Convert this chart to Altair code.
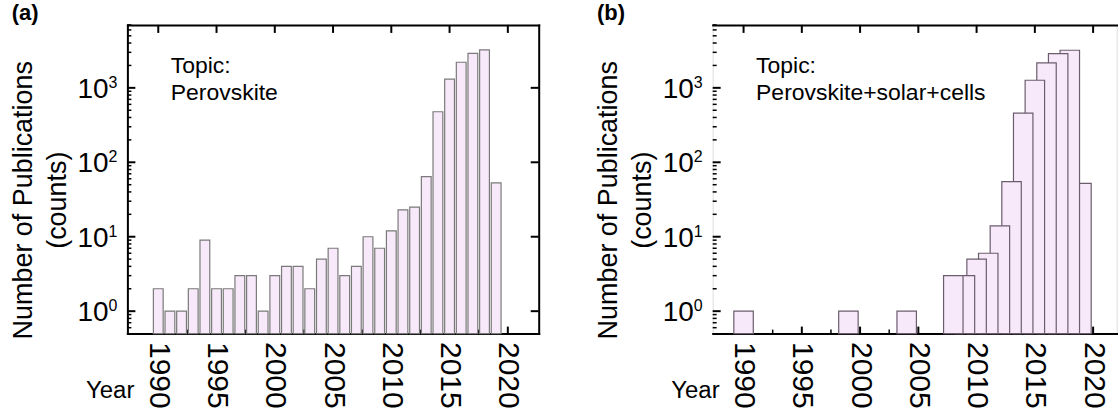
import altair as alt
import pandas as pd

FONT = "Liberation Sans"

# ---------------- data ----------------
years_a = list(range(1990, 2020))
counts_a = [2, 1, 1, 2, 9, 2, 2, 3, 3, 1,
            3, 4, 4, 2, 5, 7, 3, 4, 10, 7,
            12, 23, 25, 64, 477, 1306, 2207, 2912, 3228, 53]

years_b = [1990, 1999, 2004, 2008, 2009, 2010, 2011, 2012, 2013, 2014,
           2015, 2016, 2017, 2018, 2019]
counts_b = [1, 1, 1, 3, 3, 5, 6, 14, 55, 457,
            1265, 2160, 2885, 3200, 52]

topic_a = "Topic:\nPerovskite"
topic_b = "Topic:\nPerovskite+solar+cells"
tag_a = "(a)"
tag_b = "(b)"

x_tick_years = [1990, 1995, 2000, 2005, 2010, 2015, 2020]
x_minor_years = [1992.5, 1997.5, 2002.5, 2007.5, 2012.5, 2017.5]
y_major = [1, 10, 100, 1000]
y_tick_base = ["10", "10", "10", "10"]
y_tick_exp = ["0", "1", "2", "3"]
y_minor = [0.6, 0.7, 0.8, 0.9, 2, 3, 4, 5, 6, 7, 8, 9,
           20, 30, 40, 50, 60, 70, 80, 90,
           200, 300, 400, 500, 600, 700, 800, 900,
           2000, 3000, 4000, 5000, 6000, 7000]
y_title = ["Number of Publications", "(counts)"]
x_title = "Year"

H = 309.4
PX_PER_YEAR = 11.68
X_MIN = 1987.35


def text_layer(value, **kw):
    return alt.Chart(pd.DataFrame({"t": [value]})).mark_text(font=FONT, color="black", **kw)


def panel(years, counts, half, stroke, topic, tag, width, right_frame):
    xscale = alt.Scale(domain=[X_MIN, X_MIN + width / PX_PER_YEAR], nice=False, zero=False)
    yscale = alt.Scale(type="log", domain=[0.5, 7000], nice=False)

    df = pd.DataFrame({"year": years, "count": counts}).sort_values("year", ascending=False)

    # tick marks (inward)
    top_ticks = alt.Chart(pd.DataFrame({"year": x_tick_years})).mark_rule(
        color="black", strokeWidth=2
    ).encode(
        x=alt.X("year:Q", scale=xscale,
                axis=alt.Axis(orient="top", domain=True, ticks=False, labels=False,
                              grid=False, title=None, domainColor="black",
                              domainWidth=2, domainCap="square")),
        y=alt.value(0), y2=alt.value(8),
    )
    bot_ticks = alt.Chart(pd.DataFrame({"year": x_tick_years})).mark_rule(
        color="black", strokeWidth=2
    ).encode(
        x=alt.X("year:Q", scale=xscale, axis=None),
        y=alt.value(H), y2=alt.value(H - 7),
    )
    bot_minor = alt.Chart(pd.DataFrame({"year": x_minor_years})).mark_rule(
        color="black", strokeWidth=1.5
    ).encode(
        x=alt.X("year:Q", scale=xscale, axis=None),
        y=alt.value(H), y2=alt.value(H - 4),
    )
    left_major = alt.Chart(pd.DataFrame({"v": y_major})).mark_rule(
        color="black", strokeWidth=2
    ).encode(
        y=alt.Y("v:Q", scale=yscale, axis=None),
        x=alt.value(0), x2=alt.value(8),
    )
    left_minor = alt.Chart(pd.DataFrame({"v": y_minor})).mark_rule(
        color="black", strokeWidth=1.5
    ).encode(
        y=alt.Y("v:Q", scale=yscale, axis=None),
        x=alt.value(0), x2=alt.value(4),
    )

    bars = alt.Chart(df).transform_calculate(
        x0=f"datum.year - {half}", x1=f"datum.year + {half}", base="0.5"
    ).mark_bar(fill="#f7e9f9", stroke=stroke, strokeWidth=1.2).encode(
        x=alt.X("x0:Q", scale=xscale,
                axis=alt.Axis(orient="bottom", values=x_tick_years, format="d",
                              domain=True, domainColor="black", domainWidth=2,
                              domainCap="square", ticks=False, tickSize=0,
                              grid=False, title=None,
                              labelAngle=90, labelAlign="left", labelBaseline="middle",
                              labelPadding=8, labelFontSize=30, labelFont=FONT,
                              labelColor="black", labelFlush=False, labelOverlap=False,
                              labelBound=False)),
        x2="x1:Q",
        y=alt.Y("count:Q", scale=yscale,
                axis=alt.Axis(orient="left", domain=True, domainColor="black",
                              domainWidth=2, domainCap="square", ticks=False,
                              labels=False, grid=False, title=None)),
        y2="base:Q",
    )

    lab_df = pd.DataFrame({"v": y_major, "b": y_tick_base, "e": y_tick_exp})
    lab_base = alt.Chart(lab_df).mark_text(
        align="right", baseline="alphabetic", fontSize=28, font=FONT, dy=10, color="black"
    ).encode(
        y=alt.Y("v:Q", scale=yscale, axis=None), x=alt.value(-19), text="b:N"
    )
    lab_exp = alt.Chart(lab_df).mark_text(
        align="left", baseline="alphabetic", fontSize=16, font=FONT, dy=0, color="black"
    ).encode(
        y=alt.Y("v:Q", scale=yscale, axis=None), x=alt.value(-19), text="e:N"
    )

    title1 = text_layer(y_title[0], angle=270, align="center", baseline="middle",
                        fontSize=27).encode(x=alt.value(-103.5), y=alt.value(175.7), text="t:N")
    title2 = text_layer(y_title[1], angle=270, align="center", baseline="middle",
                        fontSize=27).encode(x=alt.value(-70), y=alt.value(175.7), text="t:N")

    topic_t = text_layer(topic, align="left", baseline="alphabetic", fontSize=23,
                         lineBreak="\n", lineHeight=28).encode(
        x=alt.value(43.5), y=alt.value(47.7), text="t:N")

    tag_t = text_layer(tag, align="left", baseline="alphabetic", fontSize=22,
                       fontWeight="bold").encode(x=alt.value(-116), y=alt.value(-5), text="t:N")

    year_t = text_layer(x_title, align="right", baseline="alphabetic", fontSize=24).encode(
        x=alt.value(7), y=alt.value(374.4), text="t:N")

    layers = [top_ticks, bot_ticks, bot_minor, left_major, left_minor, bars,
              lab_base, lab_exp, title1, title2, topic_t, tag_t, year_t]

    if right_frame:
        right_major = alt.Chart(pd.DataFrame({"v": y_major})).mark_rule(
            color="black", strokeWidth=2
        ).encode(
            y=alt.Y("v:Q", scale=yscale,
                    axis=alt.Axis(orient="right", domain=True, ticks=False, labels=False,
                                  grid=False, title=None, domainColor="black",
                                  domainWidth=2, domainCap="square")),
            x=alt.value(width - 8), x2=alt.value(width),
        )
        layers.append(right_major)

    return alt.layer(*layers).properties(width=width, height=H)


pa = panel(years_a, counts_a, 0.42, "#7a7a7a", topic_a, tag_a, 412.3, True)
pb = panel(years_b, counts_b, 0.835, "#6b5d6e", topic_b, tag_b, 405.0, False)

chart = alt.hconcat(pa, pb, spacing=173.7, bounds="flush").properties(
    padding={"left": 9.7, "top": 0.5, "right": 0, "bottom": 0}
).configure_view(stroke="transparent").configure(font=FONT)

chart.save("out.html", embed_options={"renderer": "svg", "actions": False})
